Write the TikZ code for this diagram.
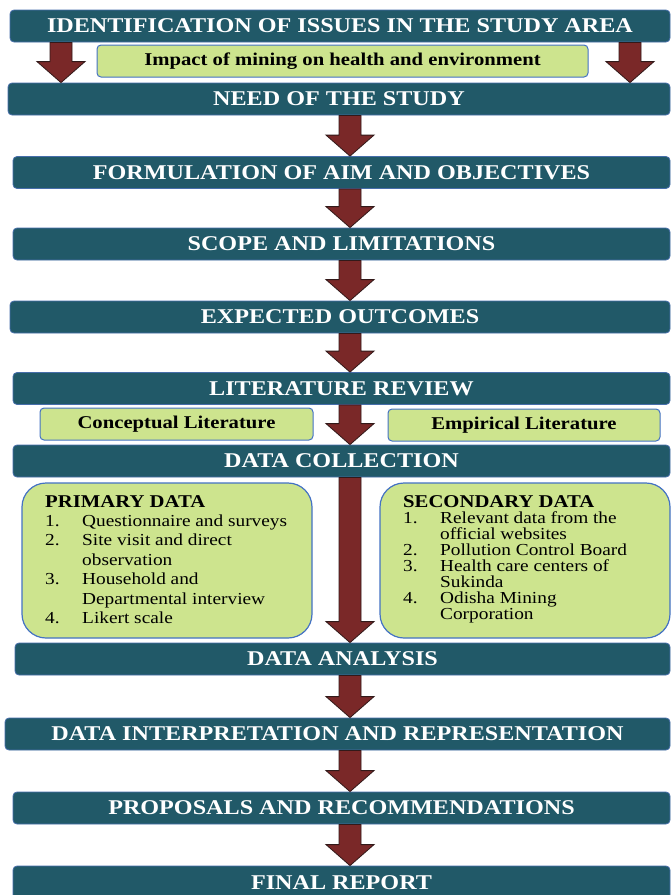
\documentclass[tikz,border=0pt]{standalone}
\usepackage{fontspec}
\setmainfont{Liberation Serif}[FakeStretch=1.15]
\usetikzlibrary{calc}
\definecolor{barfill}{RGB}{33,89,104}
\definecolor{barline}{RGB}{70,110,170}
\definecolor{greenfill}{RGB}{205,228,142}
\definecolor{greenline}{RGB}{68,114,196}
\definecolor{arrfill}{RGB}{122,40,40}
\definecolor{arrline}{RGB}{50,25,25}
\tikzset{
  bar/.style={draw=barline, line width=0.8pt, fill=barfill, rounded corners=4pt,
    minimum height=32pt, inner sep=0pt, text=white,
    font=\fontsize{21}{24}\selectfont\bfseries},
  gbox/.style={draw=greenline, line width=1pt, fill=greenfill, rounded corners=4pt,
    minimum height=32pt, inner sep=0pt, font=\fontsize{18}{20}\selectfont\bfseries},
  databox/.style={draw=greenline, line width=1.2pt, fill=greenfill, rounded corners=24pt,
    minimum height=155pt, minimum width=290pt, inner sep=0pt},
  dtext/.style={anchor=base west, inner sep=0pt},
  arr/.style={draw=arrline, fill=arrfill, line width=0.8pt, line join=miter},
}
\newcommand\blockarrow[3]{%
  \path[arr] let \p1=(#2.south -| #1), \p2=(#3.north -| #1) in
    (\x1-11pt,\y1) -- (\x1+11pt,\y1) -- (\x1+11pt,\y2+21pt) -- (\x1+24pt,\y2+21pt)
    -- (\x1,\y2) -- (\x1-24pt,\y2+21pt) -- (\x1-11pt,\y2+21pt) -- cycle;}
\newcommand\itm[1]{\makebox[37pt][l]{#1}}
\begin{document}
\begin{tikzpicture}[x=1pt,y=-1pt]
\useasboundingbox (0,0) rectangle (672,895);
\fill[white] (0,0) rectangle (672,895);
\coordinate (ax) at (350,0);
\coordinate (axl) at (61,0);
\coordinate (axr) at (630,0);

\node[bar, minimum width=660pt] (ident) at (340,26) {IDENTIFICATION OF ISSUES IN THE STUDY AREA};
\node[gbox, minimum width=491pt] (impact) at (342.5,61) {Impact of mining on health and environment};
\node[bar, minimum width=662pt] (need) at (339,99) {NEED OF THE STUDY};
\node[bar, minimum width=657pt] (form) at (341.5,172.5) {FORMULATION OF AIM AND OBJECTIVES};
\node[bar, minimum width=657pt] (scope) at (341.5,244) {SCOPE AND LIMITATIONS};
\node[bar, minimum width=660pt] (expect) at (340,317) {EXPECTED OUTCOMES};
\node[bar, minimum width=657pt] (lit) at (341.5,388.5) {LITERATURE REVIEW};
\node[gbox, minimum width=273pt] (concept) at (176.5,424) {Conceptual Literature};
\node[gbox, minimum width=272pt] (empir) at (524,425) {Empirical Literature};
\node[bar, minimum width=657pt] (datacol) at (341.5,461) {DATA COLLECTION};

\node[databox] (primary) at (167,560.5) {};
\node[databox] (secondary) at (525,560.5) {};
\node[dtext] (ptext) at (45,507) {\parbox[t]{265pt}{\fontsize{16.8}{19.4}\selectfont\lineskiplimit=-50pt
  {\fontsize{18}{19.4}\selectfont\bfseries PRIMARY DATA}\\
  \itm{1.}Questionnaire and surveys\\
  \itm{2.}Site visit and direct\\
  \itm{}observation\\
  \itm{3.}Household and\\
  \itm{}Departmental interview\\
  \itm{4.}Likert scale}};
\node[dtext] (stext) at (403,507) {\parbox[t]{265pt}{\fontsize{16.8}{16}\selectfont\lineskiplimit=-50pt
  {\fontsize{18}{16}\selectfont\bfseries SECONDARY DATA}\\
  \itm{1.}Relevant data from the\\
  \itm{}official websites\\
  \itm{2.}Pollution Control Board\\
  \itm{3.}Health care centers of\\
  \itm{}Sukinda\\
  \itm{4.}Odisha Mining\\
  \itm{}Corporation}};

\node[bar, minimum width=655pt] (analysis) at (342.5,659) {DATA ANALYSIS};
\node[bar, minimum width=665pt] (interp) at (337.5,734) {DATA INTERPRETATION AND REPRESENTATION};
\node[bar, minimum width=657pt] (prop) at (341.5,808) {PROPOSALS AND RECOMMENDATIONS};
\node[bar, minimum width=657pt, minimum height=34pt] (final) at (341.5,883) {FINAL REPORT};

\blockarrow{axl}{ident}{need}
\blockarrow{axr}{ident}{need}
\blockarrow{ax}{need}{form}
\blockarrow{ax}{form}{scope}
\blockarrow{ax}{scope}{expect}
\blockarrow{ax}{expect}{lit}
\blockarrow{ax}{lit}{datacol}
\blockarrow{ax}{datacol}{analysis}
\blockarrow{ax}{analysis}{interp}
\blockarrow{ax}{interp}{prop}
\blockarrow{ax}{prop}{final}
\end{tikzpicture}
\end{document}
